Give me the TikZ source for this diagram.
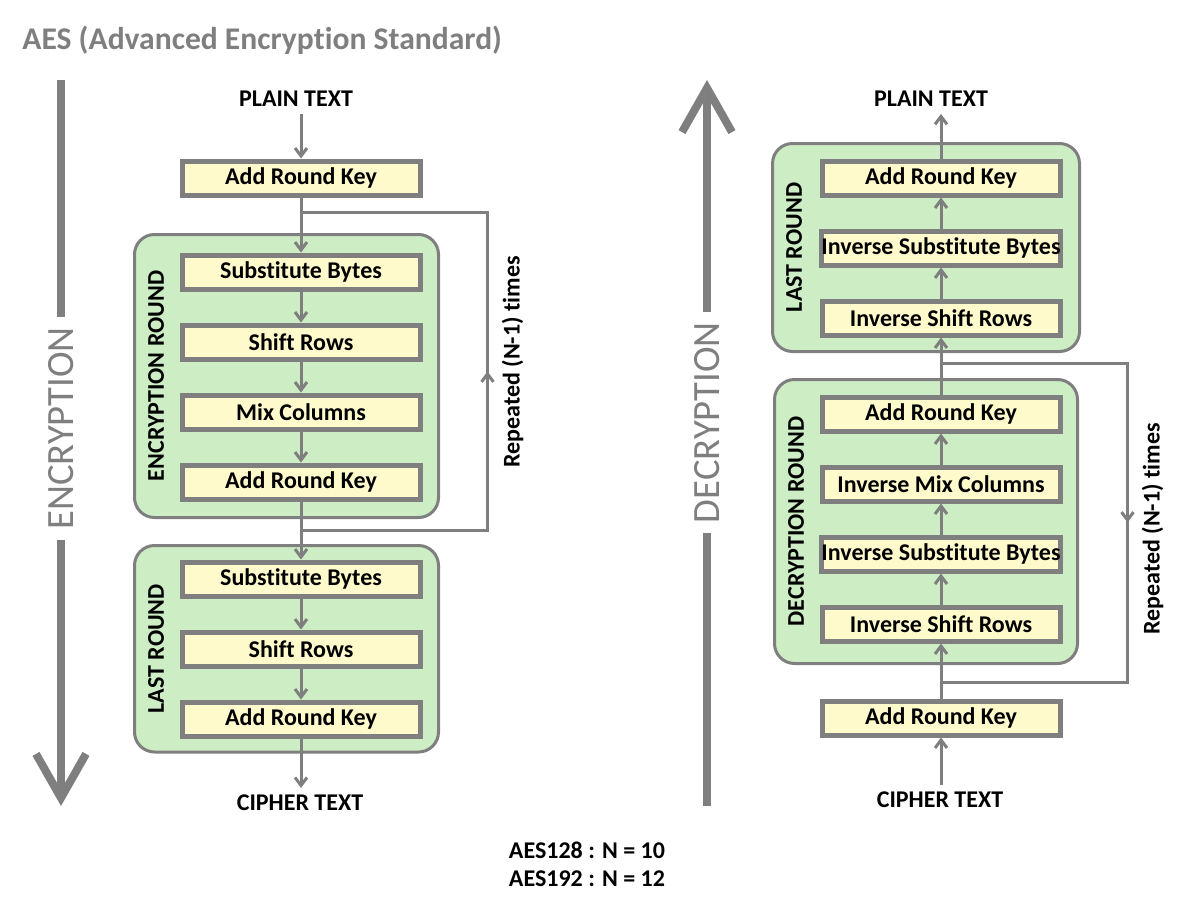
\documentclass[tikz,border=0pt]{standalone}
\usepackage{fontspec}
\setmainfont{Carlito}[Ligatures={NoCommon}]
\usepackage{tikz}
\usetikzlibrary{arrows.meta,positioning,fit,calc,backgrounds,decorations.markings}
\definecolor{aesGray}{HTML}{7F7F7F}
\definecolor{aesYellow}{HTML}{FFFACC}
\definecolor{aesGreen}{HTML}{CDEDC5}
\tikzset{
  stage/.style={rectangle, draw=aesGray, line width=2.5pt, fill=aesYellow, align=center, minimum width=119pt, minimum height=17pt, inner sep=0pt, font=\fontsize{12}{14}\selectfont\bfseries},
  roundbox/.style={rectangle, rounded corners=10pt, draw=aesGray, line width=1.5pt, fill=aesGreen, inner sep=0pt},
  side/.style={rotate=90, font=\fontsize{12}{14}\selectfont\bfseries},
  io/.style={font=\fontsize{12}{14}\selectfont\bfseries},
  heading/.style={inner sep=0pt, text=aesGray, font=\fontsize{15.8}{18}\selectfont\bfseries},
  bigtext/.style={rotate=90, fill=white, inner sep=5pt, text=aesGray, font=\fontsize{19.3}{22}\selectfont},
  flow/.style={-{Straight Barb[length=4pt,width=6pt]}, line width=1.5pt, draw=aesGray},
  bigflow/.style={-{Straight Barb[length=22pt,width=25pt]}, line width=4pt, draw=aesGray},
  repeatline/.style={line width=1.5pt, draw=aesGray, postaction={decorate}, decoration={markings, mark=at position 0.5 with {\arrow{Straight Barb[length=4pt,width=6pt]}}}}
}
\begin{document}
\begin{tikzpicture}[x=0.5pt, y=-0.5pt, node distance=15.5pt]
\useasboundingbox (0,0) rectangle (1200,900);
\node[heading, anchor=west] (title) at (22,40) {AES (Advanced Encryption Standard)};

% encryption side
\node[io] (plainE) at (296,99) {PLAIN TEXT};
\node[stage] (arkA) at (301,178) {Add Round Key};
\node[stage, below=27.5pt of arkA] (subA) {Substitute Bytes};
\node[stage, below=of subA] (shiftA) {Shift Rows};
\node[stage, below=of shiftA] (mixA) {Mix Columns};
\node[stage, below=of mixA] (arkB) {Add Round Key};
\node[stage, below=29pt of arkB] (subB) {Substitute Bytes};
\node[stage, below=of subB] (shiftB) {Shift Rows};
\node[stage, below=of shiftB] (arkC) {Add Round Key};
\node[io] (cipherE) at (300,803) {CIPHER TEXT};

% decryption side
\node[io] (plainD) at (931,99) {PLAIN TEXT};
\node[stage] (arkD) at (941,178) {Add Round Key};
\node[stage, below=of arkD] (isubA) {Inverse Substitute Bytes};
\node[stage, below=of isubA] (ishiftA) {Inverse Shift Rows};
\node[stage, below=28.5pt of ishiftA] (arkE) {Add Round Key};
\node[stage, below=of arkE] (imix) {Inverse Mix Columns};
\node[stage, below=of imix] (isubB) {Inverse Substitute Bytes};
\node[stage, below=of isubB] (ishiftB) {Inverse Shift Rows};
\node[stage, below=27.5pt of ishiftB] (arkF) {Add Round Key};
\node[io] (cipherD) at (940,800) {CIPHER TEXT};

% round frames
\begin{scope}[on background layer]
\node[roundbox, fit={($(subA.north west)+(-45,-18)$) ($(arkB.south east)+(16,16)$)}] (encRound) {};
\node[roundbox, fit={($(subB.north west)+(-45,-14)$) ($(arkC.south east)+(16,13.5)$)}] (encLast) {};
\node[roundbox, fit={($(arkD.north west)+(-47,-15)$) ($(ishiftA.south east)+(17,14)$)}] (decLast) {};
\node[roundbox, fit={($(arkE.north west)+(-45,-15)$) ($(ishiftB.south east)+(15,20)$)}] (decRound) {};
\end{scope}
\node[side] (encRoundLbl) at ([xshift=11.5pt]encRound.west) {ENCRYPTION ROUND};
\node[side] (encLastLbl) at ([xshift=11.5pt]encLast.west) {LAST ROUND};
\node[side] (decLastLbl) at ([xshift=11.5pt]decLast.west) {LAST ROUND};
\node[side] (decRoundLbl) at ([xshift=11.5pt]decRound.west) {DECRYPTION ROUND};

% encryption flow
\draw[flow] (arkA.north |- plainE.south) -- (arkA.north);
\draw[flow] (arkA) -- (subA);
\draw[flow] (subA) -- (shiftA);
\draw[flow] (shiftA) -- (mixA);
\draw[flow] (mixA) -- (arkB);
\draw[flow] (arkB) -- (subB);
\draw[flow] (subB) -- (shiftB);
\draw[flow] (shiftB) -- (arkC);
\draw[flow] (arkC.south) -- (arkC.south |- cipherE.north);

% decryption flow
\draw[flow] (arkF.south |- cipherD.north) -- (arkF.south);
\draw[flow] (arkF) -- (ishiftB);
\draw[flow] (ishiftB) -- (isubB);
\draw[flow] (isubB) -- (imix);
\draw[flow] (imix) -- (arkE);
\draw[flow] (arkE) -- (ishiftA);
\draw[flow] (ishiftA) -- (isubA);
\draw[flow] (isubA) -- (arkD);
\draw[flow] (arkD.north) -- (arkD.north |- plainD.south);

% repeat loops
\coordinate (topE) at ($(arkA.south)!0.27!(subA.north)$);
\coordinate (botE) at ($(arkB.south)!0.5!(subB.north)$);
\coordinate (sideE) at ($(subA.east)+(65,0)$);
\draw[repeatline] (botE) -- (botE -| sideE) -- (topE -| sideE) -- (topE);
\node[side] (repE) at ($($(sideE |- topE)!0.47!(sideE |- botE)$)+(25,0)$) {Repeated (N-1) times};

\coordinate (topD) at ($(ishiftA.south)!0.45!(arkE.north)$);
\coordinate (botD) at ($(ishiftB.south)!0.7!(arkF.north)$);
\coordinate (sideD) at ($(arkE.east)+(65,0)$);
\draw[repeatline] (topD) -- (topD -| sideD) -- (botD -| sideD) -- (botD);
\node[side] (repD) at ($($(sideD |- topD)!0.52!(sideD |- botD)$)+(25,0)$) {Repeated (N-1) times};

% direction arrows
\coordinate (encStart) at (61,80);
\coordinate (encEnd) at (61,806);
\draw[bigflow] (encStart) -- (encEnd) node[bigtext, pos=0.48] (encWord) {ENCRYPTION};
\coordinate (decStart) at (707,806);
\coordinate (decEnd) at (707,80);
\draw[bigflow] (decStart) -- (decEnd) node[bigtext, pos=0.528] (decWord) {DECRYPTION};

\node[io, align=left] (keySizes) at (587,864) {AES128 : N = 10\\AES192 : N = 12};
\end{tikzpicture}
\end{document}
